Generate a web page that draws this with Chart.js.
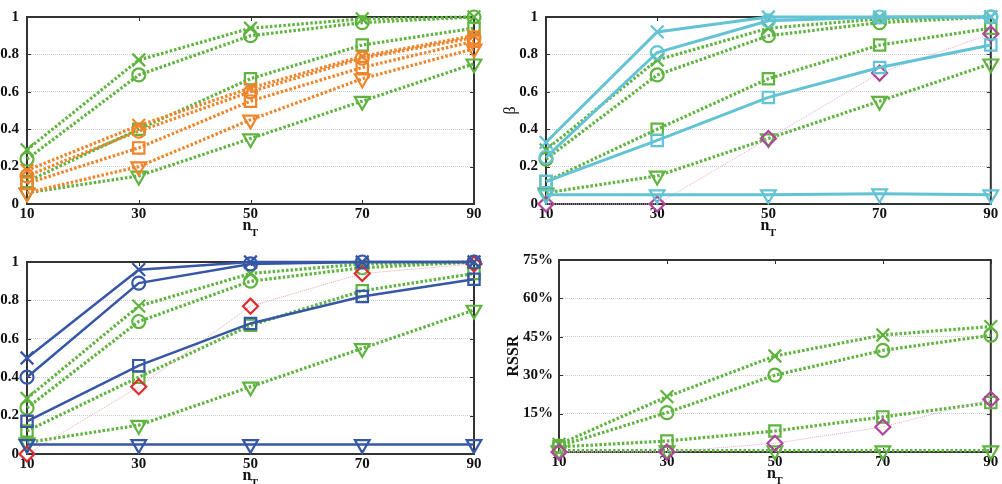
<!DOCTYPE html>
<html>
<head>
<meta charset="utf-8">
<script src="https://cdn.jsdelivr.net/npm/chart.js@4.4.0/dist/chart.umd.min.js"></script>
<style>
  body { margin: 0; background: #fff; }
  .panel { position: absolute; }
</style>
</head>
<body>
<div class="panel" style="left:0;top:0;width:500px;height:242px"><canvas id="c1"></canvas></div>
<div class="panel" style="left:500px;top:0;width:502px;height:242px"><canvas id="c2"></canvas></div>
<div class="panel" style="left:0;top:242px;width:500px;height:242px"><canvas id="c3"></canvas></div>
<div class="panel" style="left:500px;top:242px;width:502px;height:242px"><canvas id="c4"></canvas></div>
<script>
"use strict";

const nT = ["10", "30", "50", "70", "90"];

// green dotted reference curves (shown in the three beta panels)
const refX = [0.29, 0.77, 0.94, 0.99, 1.0];
const refO = [0.24, 0.69, 0.9, 0.97, 1.0];
const refSq = [0.12, 0.4, 0.67, 0.85, 0.94];
const refTri = [0.06, 0.15, 0.35, 0.55, 0.75];

// top left, orange
const orX = [0.18, 0.42, 0.62, 0.79, 0.9];
const orO = [0.15, 0.39, 0.6, 0.78, 0.89];
const orSq = [0.11, 0.3, 0.55, 0.73, 0.87];
const orTri = [0.06, 0.2, 0.45, 0.67, 0.83];

// top right, cyan + magenta
const cyX = [0.33, 0.92, 1.0, 1.0, 1.0];
const cyO = [0.25, 0.81, 0.98, 1.0, 1.0];
const cySq = [0.12, 0.34, 0.57, 0.73, 0.85];
const cyTri = [0.05, 0.05, 0.05, 0.055, 0.05];
const mgDia = [0, 0, 0.35, 0.7, 0.91];

// bottom left, blue + red
const blX = [0.5, 0.96, 1.0, 1.0, 1.0];
const blO = [0.4, 0.89, 0.99, 1.0, 1.0];
const blSq = [0.17, 0.46, 0.68, 0.82, 0.91];
const blTri = [0.05, 0.05, 0.05, 0.05, 0.05];
const rdDia = [0, 0.35, 0.77, 0.94, 0.99];

// bottom right, RSSR in percent
const rsX = [3, 21.6, 37.5, 45.7, 49];
const rsO = [2.3, 15.4, 30, 39.7, 45.6];
const rsSq = [2, 4.3, 8.2, 13.7, 19.3];
const rsTri = [0.5, 0.5, 0.5, 0.5, 0.5];
const rsDia = [0, 0, 3.4, 9.8, 20.6];

const GREEN = "#5fb43f";
const ORANGE = "#f0842a";
const CYAN = "#62c3d4";
const BLUE = "#3656a6";
const MAGENTA = "#b0439c";
const RED = "#e12a2f";
const PINK_M = "#e7a6d8";
const PINK_R = "#f3a2a6";
const FONT = '"Liberation Serif", "Times New Roman", serif';

const markers = {
  x: { pointStyle: "crossRot", radius: 9, rotation: 0 },
  o: { pointStyle: "circle", radius: 6.5, rotation: 0 },
  s: { pointStyle: "rect", radius: 8, rotation: 0 },
  v: { pointStyle: "triangle", radius: 8.5, rotation: 180 },
  d: { pointStyle: "rectRot", radius: 7.5, rotation: 0 },
};

const series = function (data, color, mark, kind, lineColor) {
  const m = markers[mark];
  const ds = {
    data: data,
    borderColor: lineColor || color,
    pointBorderColor: color,
    pointBackgroundColor: "transparent",
    pointStyle: m.pointStyle,
    pointRadius: m.radius,
    pointRotation: m.rotation,
    pointBorderWidth: 2.2,
    tension: 0,
    clip: false,
    borderCapStyle: "butt",
  };
  if (kind === "dot") {
    ds.borderWidth = 3.2;
    ds.borderDash = [2.5, 2];
  } else if (kind === "thin") {
    ds.borderWidth = 1;
    ds.borderDash = [1, 1];
  } else {
    ds.borderWidth = kind === "solid3" ? 3 : 2.5;
  }
  return ds;
};

const greenSet = function (x, o, s, v) {
  return [
    series(x, GREEN, "x", "dot"),
    series(o, GREEN, "o", "dot"),
    series(s, GREEN, "s", "dot"),
    series(v, GREEN, "v", "dot"),
  ];
};

const framePlugin = {
  id: "frame",
  beforeDatasetsDraw(chart, args, opts) {
    const { ctx, chartArea: a, scales } = chart;
    ctx.save();
    ctx.strokeStyle = "#333";
    ctx.lineWidth = 1;
    scales.y.ticks.forEach((t) => {
      const y = Math.round(scales.y.getPixelForValue(t.value)) + 0.5;
      ctx.beginPath();
      ctx.moveTo(a.left, y);
      ctx.lineTo(a.left + 4, y);
      ctx.moveTo(a.right, y);
      ctx.lineTo(a.right - 4, y);
      ctx.stroke();
    });
    scales.x.ticks.forEach((t, i) => {
      const x = Math.round(scales.x.getPixelForTick(i)) + 0.5;
      ctx.beginPath();
      ctx.moveTo(x, a.bottom);
      ctx.lineTo(x, a.bottom - 4);
      ctx.moveTo(x, a.top);
      ctx.lineTo(x, a.top + 4);
      ctx.stroke();
    });
    ctx.lineWidth = 2;
    ctx.strokeRect(a.left, a.top, a.right - a.left, a.bottom - a.top);

    ctx.fillStyle = "#111";
    ctx.textAlign = "center";
    ctx.textBaseline = "middle";
    const cx = (a.left + a.right) / 2;
    ctx.font = "bold 16px " + FONT;
    ctx.fillText("n", cx - 3.5, a.bottom + 22);
    ctx.font = "bold 11px " + FONT;
    ctx.fillText("T", cx + 4, a.bottom + 29);

    if (opts.yTitle) {
      ctx.save();
      ctx.translate(opts.yTitleX, (a.top + a.bottom) / 2);
      ctx.rotate(-Math.PI / 2);
      ctx.font = (opts.bold ? "bold " : "") + "16px " + FONT;
      ctx.fillText(opts.yTitle, 0, 0);
      ctx.restore();
    }
    ctx.restore();
  },
};

const makeChart = function (id, datasets, box, yOpts, frameOpts) {
  const canvas = document.getElementById(id);
  return new Chart(canvas, {
    type: "line",
    data: { labels: nT, datasets: datasets },
    options: {
      responsive: true,
      maintainAspectRatio: false,
      animation: false,
      events: [],
      layout: { padding: { top: box.top, right: box.w - box.right, left: 0, bottom: 0 } },
      plugins: { legend: { display: false }, tooltip: { enabled: false }, frame: frameOpts },
      scales: {
        x: {
          offset: false,
          grid: { display: false, drawTicks: false },
          border: { display: false },
          ticks: { color: "#111", font: { family: FONT, size: 15, weight: "bold" }, padding: 1, maxRotation: 0 },
          afterFit: (scale) => { scale.height = box.h - box.bottom; },
        },
        y: {
          min: 0,
          max: yOpts.max,
          grid: {
            drawTicks: false,
            lineWidth: 1,
            color: (c) => (c.tick.value === 0 || c.tick.value === yOpts.max ? "transparent" : "#cfcfcf"),
          },
          border: { display: false, dash: [1, 1] },
          ticks: {
            stepSize: yOpts.step,
            padding: yOpts.pad,
            color: "#111",
            font: { family: FONT, size: 15, weight: "bold" },
            callback: yOpts.fmt,
          },
          afterFit: (scale) => { scale.width = box.left; },
        },
      },
    },
    plugins: [framePlugin],
  });
};

const betaAxis = { max: 1, step: 0.2, pad: 8, fmt: (v) => String(Math.round(v * 10) / 10) };

makeChart(
  "c1",
  [
    series(orX, ORANGE, "x", "dot"),
    series(orO, ORANGE, "o", "dot"),
    series(orSq, ORANGE, "s", "dot"),
    series(orTri, ORANGE, "v", "dot"),
  ].concat(greenSet(refX, refO, refSq, refTri)),
  { w: 500, h: 242, left: 27, right: 474, top: 11, bottom: 204 },
  betaAxis,
  {}
);

makeChart(
  "c2",
  [
    series(cyX, CYAN, "x", "solid3"),
    series(cyO, CYAN, "o", "solid3"),
    series(cySq, CYAN, "s", "solid3"),
    series(cyTri, CYAN, "v", "solid3"),
    series(mgDia, MAGENTA, "d", "thin", PINK_M),
  ].concat(greenSet(refX, refO, refSq, refTri)),
  { w: 502, h: 242, left: 46, right: 493, top: 11, bottom: 204 },
  betaAxis,
  { yTitle: "β", yTitleX: 11 }
);

makeChart(
  "c3",
  [
    series(blX, BLUE, "x", "solid"),
    series(blO, BLUE, "o", "solid"),
    series(blSq, BLUE, "s", "solid"),
    series(blTri, BLUE, "v", "solid"),
    series(rdDia, RED, "d", "thin", PINK_R),
  ].concat(greenSet(refX, refO, refSq, refTri)),
  { w: 500, h: 242, left: 27, right: 474, top: 20, bottom: 212 },
  betaAxis,
  {}
);

makeChart(
  "c4",
  [series(rsDia, MAGENTA, "d", "thin", PINK_M)].concat(greenSet(rsX, rsO, rsSq, rsTri)),
  { w: 502, h: 242, left: 59, right: 493, top: 18, bottom: 210 },
  { max: 75, step: 15, pad: 6, fmt: (v) => (v === 0 ? "" : v + "%") },
  { yTitle: "RSSR", yTitleX: 14, bold: true }
);
</script>
</body>
</html>
